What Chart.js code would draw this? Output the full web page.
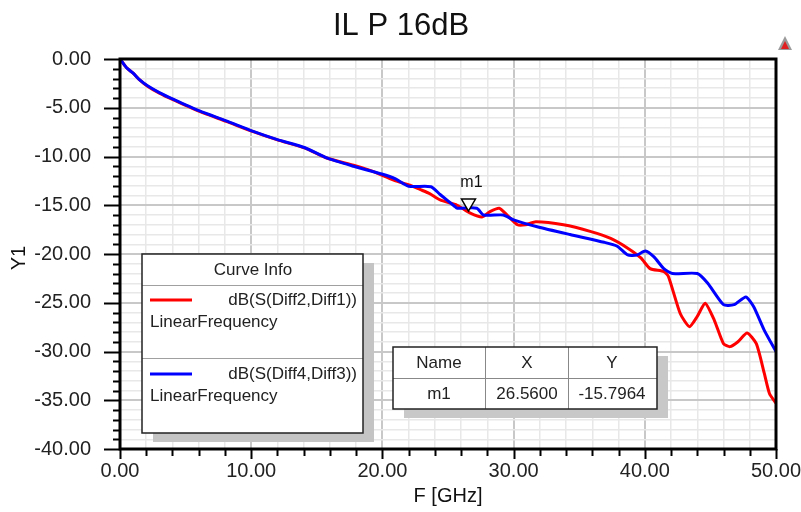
<!DOCTYPE html>
<html>
<head>
<meta charset="utf-8">
<script src="https://cdn.jsdelivr.net/npm/chart.js@4/dist/chart.umd.min.js"></script>
<style>
  html, body { margin: 0; padding: 0; background: #ffffff; }
  #wrap { width: 801px; height: 512px; position: relative; }
</style>
</head>
<body>
<div id="wrap"><canvas id="chart" width="801" height="512"></canvas></div>
<script>
// dB(S(Diff2,Diff1)) - red trace
const freqRed = [0, 0.5, 1.0, 1.5, 2.1, 3.0, 4.0, 6.06, 8.1, 10.1, 12.0, 14.1, 15.75, 17.8, 19.0, 19.95, 21.0, 22.1, 22.9, 23.6, 24.4, 25.7, 26.7, 27.6, 28.2, 28.9, 29.5, 30.3, 30.9, 31.7, 33.8, 35.9, 37.4, 38.7, 39.7, 40.4, 41.45, 41.8, 42.7, 43.4, 44.0, 44.6, 45.3, 46.0, 46.5, 47.1, 47.8, 48.5, 49.1, 49.5, 50];
const dbRed = [0, -0.9, -1.45, -2.15, -2.8, -3.5, -4.15, -5.38, -6.4, -7.43, -8.3, -9.14, -10.15, -10.9, -11.4, -11.9, -12.5, -12.95, -13.4, -13.8, -14.45, -15.0, -15.8, -16.2, -15.65, -15.3, -16.0, -17.0, -17.0, -16.7, -17.0, -17.7, -18.4, -19.4, -20.4, -21.5, -21.8, -22.3, -26.1, -27.45, -26.4, -25.05, -26.8, -29.2, -29.5, -29.0, -28.1, -29.2, -32.2, -34.3, -35.3];

// dB(S(Diff4,Diff3)) - blue trace
const freqBlue = [0, 0.5, 1.0, 1.5, 2.1, 3.0, 4.0, 6.06, 8.1, 10.1, 12.0, 14.1, 15.75, 17.8, 19.95, 21.0, 22.0, 23.7, 24.4, 25.5, 25.7, 27.2, 27.7, 29.2, 30.0, 31.8, 34.3, 36.9, 37.9, 38.7, 39.4, 40.05, 40.7, 41.45, 42.1, 44.0, 44.8, 46.0, 46.8, 47.7, 48.3, 49.1, 50];
const dbBlue = [0, -0.9, -1.45, -2.15, -2.75, -3.45, -4.1, -5.33, -6.35, -7.4, -8.27, -9.1, -10.15, -11.0, -11.8, -12.3, -13.05, -13.1, -13.9, -15.1, -15.3, -15.3, -16.0, -16.0, -16.5, -17.2, -18.0, -18.8, -19.2, -20.1, -20.1, -19.7, -20.3, -21.5, -22.0, -22.0, -23.0, -25.2, -25.2, -24.4, -25.4, -27.8, -30.0];

const curveNames = ["dB(S(Diff2,Diff1))", "dB(S(Diff4,Diff3))"];
const sweepName = "LinearFrequency";
const markerName = "m1";
const markerX = 26.56;
const markerY = -15.7964;

const FONT = "'Liberation Sans', Arial, sans-serif";
const MAJOR_GRID = "#c8c8c8";
const MINOR_GRID = "#e8e8e8";

function toPoints(xs, ys) {
  return xs.map((x, i) => ({ x: x, y: ys[i] }));
}

// everything HFSS draws around the plot: frame, ticks, title, curve info and marker table
const decorations = {
  id: "decorations",
  afterDraw(chart) {
    const ctx = chart.ctx;
    const area = chart.chartArea;
    const xs = chart.scales.x;
    const ys = chart.scales.y;

    ctx.save();

    // tick marks
    ctx.strokeStyle = "#000";
    ctx.lineWidth = 2;
    for (let v = -40; v <= 0; v++) {
      const py = Math.round(ys.getPixelForValue(v)) + 0.5;
      const len = v % 5 === 0 ? 16 : 7;
      ctx.beginPath();
      ctx.moveTo(area.left - len, py);
      ctx.lineTo(area.left, py);
      ctx.stroke();
    }
    for (let v = 0; v <= 50; v += 2) {
      const px = Math.round(xs.getPixelForValue(v)) + 0.5;
      const len = v % 10 === 0 ? 10 : 7;
      ctx.beginPath();
      ctx.moveTo(px, area.bottom);
      ctx.lineTo(px, area.bottom + len);
      ctx.stroke();
    }

    // frame
    ctx.lineWidth = 3;
    ctx.strokeRect(area.left, area.top, area.right - area.left, area.bottom - area.top);

    // title + axis titles
    ctx.fillStyle = "#111";
    ctx.textAlign = "center";
    ctx.textBaseline = "middle";
    ctx.font = "31px " + FONT;
    ctx.fillText("IL P 16dB", 401, 26);
    ctx.font = "20px " + FONT;
    ctx.fillText("F [GHz]", 448, 496);
    ctx.save();
    ctx.translate(19, 258);
    ctx.rotate(-Math.PI / 2);
    ctx.fillText("Y1", 0, 0);
    ctx.restore();

    // little logo in the corner
    ctx.fillStyle = "#9a9a9a";
    ctx.beginPath();
    ctx.moveTo(785, 36); ctx.lineTo(792, 50); ctx.lineTo(778, 50); ctx.closePath();
    ctx.fill();
    ctx.fillStyle = "#e02020";
    ctx.beginPath();
    ctx.moveTo(785, 41); ctx.lineTo(789, 49); ctx.lineTo(781, 49); ctx.closePath();
    ctx.fill();

    // marker m1
    const mx = xs.getPixelForValue(markerX);
    const my = ys.getPixelForValue(markerY);
    ctx.fillStyle = "#fff";
    ctx.strokeStyle = "#000";
    ctx.lineWidth = 1.5;
    ctx.beginPath();
    ctx.moveTo(mx, my - 2);
    ctx.lineTo(mx - 7, my - 14);
    ctx.lineTo(mx + 7, my - 14);
    ctx.closePath();
    ctx.fill();
    ctx.stroke();
    ctx.fillStyle = "#111";
    ctx.font = "16px " + FONT;
    ctx.fillText(markerName, mx + 3, my - 30);

    // curve info box
    const lb = { x: 142, y: 254, w: 221, h: 179 };
    ctx.fillStyle = "#c4c4c4";
    ctx.fillRect(lb.x + 11, lb.y + 9, lb.w, lb.h);
    ctx.fillStyle = "#fff";
    ctx.fillRect(lb.x, lb.y, lb.w, lb.h);
    ctx.strokeStyle = "#a0a0a0";
    ctx.lineWidth = 1;
    ctx.beginPath();
    ctx.moveTo(lb.x, 285.5); ctx.lineTo(lb.x + lb.w, 285.5);
    ctx.moveTo(lb.x, 358.5); ctx.lineTo(lb.x + lb.w, 358.5);
    ctx.stroke();
    ctx.strokeStyle = "#222";
    ctx.lineWidth = 1.5;
    ctx.strokeRect(lb.x, lb.y, lb.w, lb.h);
    ctx.fillStyle = "#222";
    ctx.font = "17px " + FONT;
    ctx.textAlign = "center";
    ctx.fillText("Curve Info", 253, 270);
    const rows = [
      { color: "#ff0000", y: 300 },
      { color: "#0000ff", y: 374 }
    ];
    rows.forEach((r, i) => {
      ctx.strokeStyle = r.color;
      ctx.lineWidth = 3;
      ctx.beginPath();
      ctx.moveTo(150, r.y); ctx.lineTo(192, r.y);
      ctx.stroke();
      ctx.fillStyle = "#222";
      ctx.textAlign = "right";
      ctx.fillText(curveNames[i], 357, r.y);
      ctx.textAlign = "left";
      ctx.fillText(sweepName, 150, r.y + 22);
    });

    // marker table
    const tb = { x: 393, y: 347, w: 264, h: 62 };
    ctx.fillStyle = "#c8c8c8";
    ctx.fillRect(tb.x + 11, tb.y + 9, tb.w, tb.h);
    ctx.fillStyle = "#fff";
    ctx.fillRect(tb.x, tb.y, tb.w, tb.h);
    ctx.strokeStyle = "#888";
    ctx.lineWidth = 1;
    ctx.beginPath();
    ctx.moveTo(tb.x, 378.5); ctx.lineTo(tb.x + tb.w, 378.5);
    ctx.moveTo(485.5, tb.y); ctx.lineTo(485.5, tb.y + tb.h);
    ctx.moveTo(568.5, tb.y); ctx.lineTo(568.5, tb.y + tb.h);
    ctx.stroke();
    ctx.strokeStyle = "#222";
    ctx.lineWidth = 1.5;
    ctx.strokeRect(tb.x, tb.y, tb.w, tb.h);
    ctx.fillStyle = "#222";
    ctx.textAlign = "center";
    ctx.fillText("Name", 439, 363);
    ctx.fillText("X", 527, 363);
    ctx.fillText("Y", 612, 363);
    ctx.fillText(markerName, 439, 394);
    ctx.fillText(markerX.toFixed(4), 527, 394);
    ctx.fillText(markerY.toFixed(4), 612, 394);

    ctx.restore();
  }
};

new Chart(document.getElementById("chart").getContext("2d"), {
  type: "line",
  data: {
    datasets: [
      {
        label: curveNames[1],
        data: toPoints(freqBlue, dbBlue),
        borderColor: "#0000ff",
        borderWidth: 3,
        order: 0,
        tension: 0.2
      },
      {
        label: curveNames[0],
        data: toPoints(freqRed, dbRed),
        borderColor: "#ff0000",
        borderWidth: 3,
        order: 1,
        tension: 0.2
      }
    ]
  },
  options: {
    responsive: false,
    animation: false,
    layout: { padding: { left: 0, top: 59, right: 25, bottom: 0 } },
    elements: { point: { radius: 0, hoverRadius: 0 } },
    scales: {
      x: {
        type: "linear",
        min: 0,
        max: 50,
        afterFit: (s) => {
          s.height = 63;
          s.paddingLeft = 0;
          s.paddingRight = 0;
        },
        border: { display: false },
        grid: {
          drawTicks: false,
          color: (c) => (c.tick && c.tick.value % 10 === 0 ? MAJOR_GRID : MINOR_GRID),
          lineWidth: (c) => (c.tick && c.tick.value % 10 === 0 ? 2 : 1.5)
        },
        ticks: {
          stepSize: 2,
          autoSkip: false,
          maxRotation: 0,
          padding: 10,
          color: "#222",
          font: { family: FONT, size: 20 },
          callback: (v) => (v % 10 === 0 ? v.toFixed(2) : "")
        }
      },
      y: {
        min: -40,
        max: 0,
        afterFit: (s) => {
          s.width = 120;
          s.paddingTop = 0;
          s.paddingBottom = 0;
        },
        border: { display: false },
        grid: {
          drawTicks: false,
          color: (c) => (c.tick && c.tick.value % 5 === 0 ? MAJOR_GRID : MINOR_GRID),
          lineWidth: (c) => (c.tick && c.tick.value % 5 === 0 ? 2 : 1.5)
        },
        ticks: {
          stepSize: 1,
          autoSkip: false,
          padding: 29,
          color: "#222",
          font: { family: FONT, size: 20 },
          callback: (v) => (v % 5 === 0 ? v.toFixed(2) : "")
        }
      }
    },
    plugins: {
      legend: { display: false },
      tooltip: { enabled: false }
    }
  },
  plugins: [decorations]
});
</script>
</body>
</html>
